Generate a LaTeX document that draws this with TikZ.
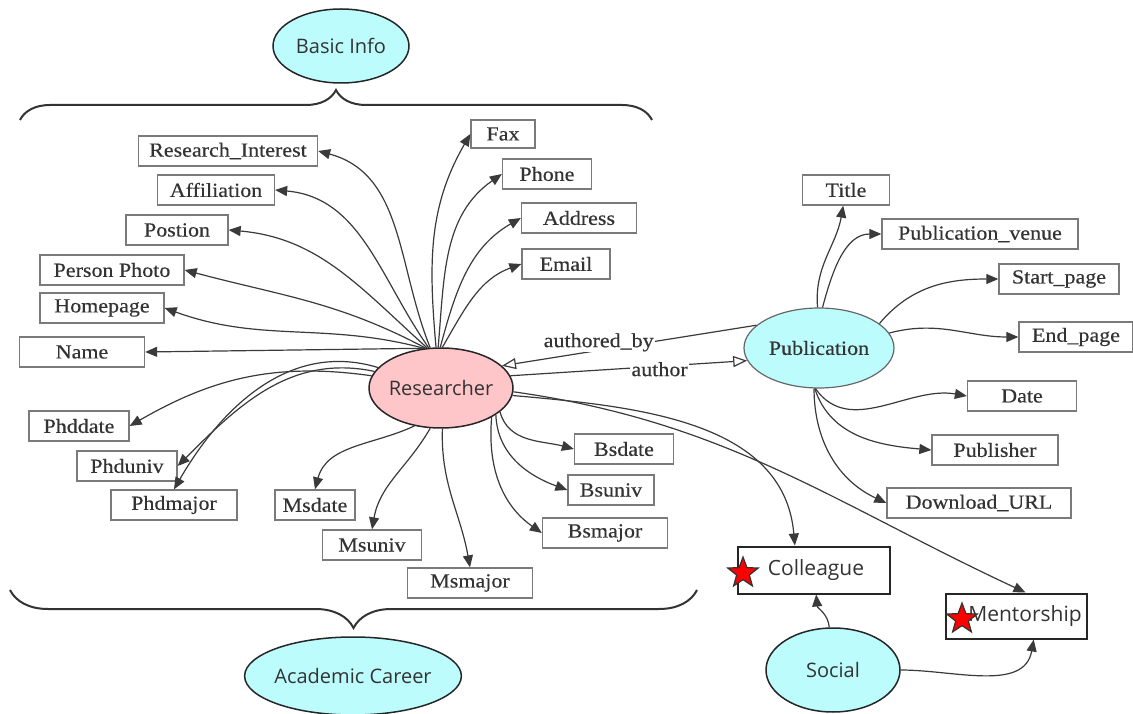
\documentclass[tikz,border=0pt]{standalone}
\usepackage{fontspec}
\setmainfont[FakeStretch=1.1,FakeBold=0.4]{Liberation Serif}
\newfontfamily\sansf{Open Sans}
\usetikzlibrary{shapes.geometric,arrows.meta,decorations.pathreplacing}
\definecolor{cyanfill}{HTML}{BDFCFC}
\definecolor{pinkfill}{HTML}{FFC6CA}
\definecolor{boxline}{HTML}{7A7A7A}
\definecolor{edgec}{HTML}{3A3A3A}
\definecolor{txt}{HTML}{333333}
\begin{document}
\begin{tikzpicture}[x=1pt,y=1pt,
  attr/.style={draw=boxline, line width=1.3pt, rectangle, minimum height=30pt, inner sep=0pt, font=\fontsize{20}{22}\selectfont, text=txt},
  ell/.style={ellipse, draw=black!85, line width=1.5pt, fill=cyanfill, inner sep=-2pt, font=\sansf\fontsize{20}{22}\selectfont, text=txt},
  soc/.style={draw=black!85, line width=2pt, rectangle, inner sep=0pt, font=\sansf\fontsize{21}{23}\selectfont, text=txt},
  edge/.style={draw=edgec, line width=1.2pt, -{Triangle[length=12pt,width=10pt]}},
  oedge/.style={draw=edgec, line width=1.2pt, -{Triangle[open,length=14pt,width=11pt,fill=white]}},
  lbl/.style={fill=white, inner sep=1pt, font=\fontsize{20}{22}\selectfont, text=txt},
  brc/.style={draw=black!80, line width=2pt, decorate, decoration={brace, amplitude=#1}},
  redstar/.style={star, star points=5, star point ratio=2.4, fill=red, draw=black!80, line width=1.2pt, minimum size=32pt, inner sep=0pt}
]
\path[use as bounding box] (0,0) rectangle (1133,713);

% group ellipses
\node[ell, minimum width=136pt, minimum height=74pt] (basic) at (341,667) {Basic Info};
\node[ell, minimum width=206pt, minimum height=78pt] (acad) at (353,37) {Academic Career};
\node[ell, fill=pinkfill, minimum width=144pt, minimum height=80pt] (res) at (441,325) {Researcher};
\node[ell, draw=black!60, line width=1.2pt, minimum width=150pt, minimum height=80pt, font=\fontsize{20}{22}\selectfont] (pub) at (819,365) {Publication};
\node[ell, minimum width=134pt, minimum height=84pt] (social) at (833,43) {Social};

% braces
\draw[brc=30pt] (20,593) -- (652,593);
\draw[brc=38pt] (697,123) -- (10,123);

% attribute boxes
\node[attr, minimum width=179pt] (ri) at (228,562) {Research\_Interest};
\node[attr, minimum width=117pt] (aff) at (216,523) {Affiliation};
\node[attr, minimum width=102pt] (pos) at (177,483) {Postion};
\node[attr, minimum width=144pt] (photo) at (112,443) {Person Photo};
\node[attr, minimum width=124pt] (home) at (102,405) {Homepage};
\node[attr, minimum width=125pt] (name) at (82,361) {Name};
\node[attr, minimum width=64pt, minimum height=28pt] (fax) at (503,579) {Fax};
\node[attr, minimum width=89pt] (phone) at (547,539) {Phone};
\node[attr, minimum width=115pt] (addr) at (579,495) {Address};
\node[attr, minimum width=88pt] (email) at (566,449) {Email};
\node[attr, minimum width=87pt] (title) at (846,523) {Title};
\node[attr, minimum width=196pt] (venue) at (980,479) {Publication\_venue};
\node[attr, minimum width=120pt] (start) at (1059,434) {Start\_page};
\node[attr, minimum width=114pt] (end) at (1076,376) {End\_page};
\node[attr, minimum width=109pt] (date) at (1022,317) {Date};
\node[attr, minimum width=126pt] (publ) at (995,263) {Publisher};
\node[attr, minimum width=184pt] (url) at (979,210) {Download\_URL};
\node[attr, minimum width=99pt] (bsdate) at (624,264) {Bsdate};
\node[attr, minimum width=86pt] (bsuniv) at (611,223) {Bsuniv};
\node[attr, minimum width=125pt] (bsmajor) at (605,180) {Bsmajor};
\node[attr, minimum width=100pt] (phddate) at (79,287) {Phddate};
\node[attr, minimum width=100pt] (phduniv) at (127,247) {Phduniv};
\node[attr, minimum width=126pt] (phdmajor) at (174,208) {Phdmajor};
\node[attr, minimum width=80pt] (msdate) at (315,208) {Msdate};
\node[attr, minimum width=99pt] (msuniv) at (372,168) {Msuniv};
\node[attr, minimum width=125pt] (msmajor) at (470,130) {Msmajor};

% social boxes
\node[soc, minimum width=152pt, minimum height=47pt] (coll) at (814,143) {\hspace*{4pt}Colleague};
\node[soc, minimum width=141pt, minimum height=45pt] (ment) at (1016,97) {\hspace*{18pt}Mentorship};
\node[redstar] (star1) at (743,140) {};
\node[redstar] (star2) at (962,94) {};

% researcher edges, upper left
\draw[edge] (res.105) to[out=112,in=-15] (ri.east);
\draw[edge] (res.107) to[out=125,in=-5] (aff.east);
\draw[edge] (res.109) to[out=138,in=-5] (pos.east);
\draw[edge] (res.111) to[out=152,in=-15] (photo.east);
\draw[edge] (res.113) to[out=165,in=-20] (home.east);
\draw[edge] (res.112) -- (name.east);
% upper right
\draw[edge] (res.97) to[out=95,in=-120] (fax.west);
\draw[edge] (res.94) to[out=85,in=-145] (phone.west);
\draw[edge] (res.91) to[out=75,in=-150] (addr.west);
\draw[edge] (res.88) to[out=60,in=-160] (email.west);
% lower left
\draw[edge] (res.170) to[out=172,in=30] (phddate.east);
\draw[edge] (res.166) to[out=168,in=45] (phduniv.east);
\draw[edge] (res.162) to[out=163,in=60] (phdmajor.north);
\draw[edge] (res.235) to[out=205,in=75] (msdate.north);
\draw[edge] (res.255) to[out=240,in=80] (msuniv.north);
\draw[edge] (res.272) to[out=268,in=100] (msmajor.north);
% lower right
\draw[edge] (res.-22) to[out=-75,in=165] (bsdate.west);
\draw[edge] (res.-26) to[out=-88,in=160] (bsuniv.west);
\draw[edge] (res.-30) to[out=-95,in=145] (bsmajor.west);
\draw[edge] (res.-6) to[out=-5,in=95] (coll.128);
\draw[edge] (res.-3) to[out=-8,in=155] (ment.68);

% researcher <-> publication
\draw[oedge] (pub.160) -- node[lbl, pos=0.62, yshift=8pt] {authored\_by} (res.20);
\draw[oedge] (res.10) -- node[lbl, pos=0.63, yshift=-3pt] {author} (pub.190);

% publication edges
\draw[edge] (pub.92) to[out=95,in=-100] (title);
\draw[edge] (pub.85) to[out=75,in=180] (venue.west);
\draw[edge] (pub.22) to[out=50,in=180] (start.west);
\draw[edge] (pub.12) to[out=15,in=180] (end.west);
\draw[edge] (pub.-95) to[out=-55,in=170] (date.west);
\draw[edge] (pub.-96) to[out=-72,in=175] (publ.west);
\draw[edge] (pub.-97) to[out=-90,in=155] (url.west);

% social edges
\draw[edge] (social.95) to[out=95,in=-85] (coll);
\draw[edge] (social.east) to[out=0,in=-100] (ment.-53);
\end{tikzpicture}
\end{document}
